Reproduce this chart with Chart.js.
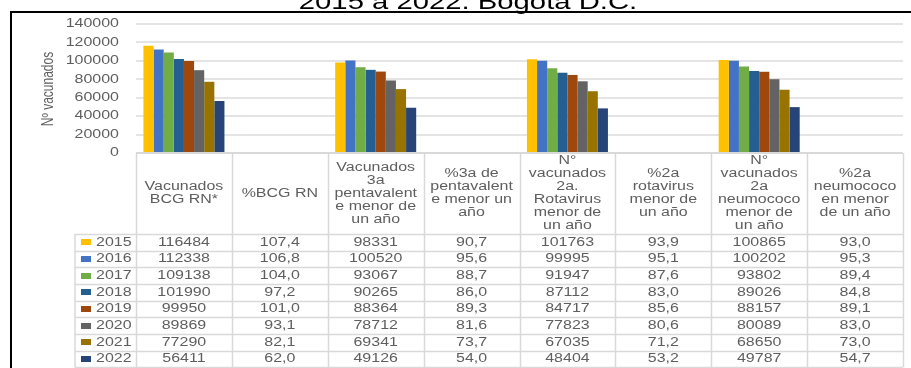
<!DOCTYPE html>
<html>
<head>
<meta charset="utf-8">
<script src="https://cdn.jsdelivr.net/npm/chart.js@4.4.1/dist/chart.umd.min.js"></script>
<style>
    body { margin: 0; background: #ffffff; }
    #wrap { width: 911px; height: 368px; }
</style>
</head>
<body>
<div id="wrap"><canvas id="coverageChart"></canvas></div>
<script>
// Years (one dataset per year) and table columns (x categories)
const years = ['2015', '2016', '2017', '2018', '2019', '2020', '2021', '2022'];
const categories = [
    ['Vacunados', 'BCG RN*'],
    ['%BCG RN'],
    ['Vacunados', '3a', 'pentavalent', 'e menor de', 'un año'],
    ['%3a de', 'pentavalent', 'e menor un', 'año'],
    ['N°', 'vacunados', '2a.', 'Rotavirus', 'menor de', 'un año'],
    ['%2a', 'rotavirus', 'menor de', 'un año'],
    ['N°', 'vacunados', '2a', 'neumococo', 'menor de', 'un año'],
    ['%2a', 'neumococo', 'en menor', 'de un año']
];

const bcgCount   = [116484, 112338, 109138, 101990, 99950, 89869, 77290, 56411];
const bcgPct     = [107.4, 106.8, 104.0, 97.2, 101.0, 93.1, 82.1, 62.0];
const pentaCount = [98331, 100520, 93067, 90265, 88364, 78712, 69341, 49126];
const pentaPct   = [90.7, 95.6, 88.7, 86.0, 89.3, 81.6, 73.7, 54.0];
const rotaCount  = [101763, 99995, 91947, 87112, 84717, 77823, 67035, 48404];
const rotaPct    = [93.9, 95.1, 87.6, 83.0, 85.6, 80.6, 71.2, 53.2];
const neumoCount = [100865, 100202, 93802, 89026, 88157, 80089, 68650, 49787];
const neumoPct   = [93.0, 95.3, 89.4, 84.8, 89.1, 83.0, 73.0, 54.7];

const columns = [bcgCount, bcgPct, pentaCount, pentaPct, rotaCount, rotaPct, neumoCount, neumoPct];
const percentColumn = [false, true, false, true, false, true, false, true];

const yTickValues = [0, 20000, 40000, 60000, 80000, 100000, 120000, 140000];
const yearColors = ['#FFC000', '#4472C4', '#70AD47', '#255E91', '#9E480E', '#636363', '#997300', '#264478'];

const TEXT_GRAY = '#5E5E5E';
const LINE_GRAY = '#D9D9D9';
const SX = 1.33;   // horizontal stretch of every label
const FONT = "12px 'Liberation Sans', Arial, sans-serif";

function formatValue(v, pct) {
    return pct ? v.toFixed(1).replace('.', ',') : String(v);
}

function stretchText(ctx, txt, x, y, align) {
    ctx.save();
    ctx.translate(x, y);
    ctx.scale(SX, 1);
    ctx.textAlign = align;
    ctx.fillText(txt, 0, 0);
    ctx.restore();
}

const datasets = years.map(function(year, i) {
    return {
        label: year,
        data: columns.map(function(col) { return col[i]; }),
        backgroundColor: yearColors[i],
        barPercentage: 1,
        categoryPercentage: 0.845
    };
});

// Title, frame, y labels and the data table below the plot
const tablePlugin = {
    id: 'dataTable',
    afterDraw: function(chart) {
        const ctx = chart.ctx;
        const area = chart.chartArea;
        const xs = chart.scales.x;
        const ys = chart.scales.y;
        const colW = (area.right - area.left) / categories.length;
        const headTop = area.bottom;
        const headBottom = 234;
        const rowH = 16.67;
        const legendLeft = 75;
        const tableBottom = headBottom + rowH * years.length;

        ctx.save();

        // outer frame
        ctx.strokeStyle = '#000000';
        ctx.lineWidth = 2;
        ctx.strokeRect(11, 12, 1200, 1200);

        // title (last line)
        ctx.fillStyle = '#000000';
        ctx.font = "22px 'Liberation Sans', Arial, sans-serif";
        ctx.textBaseline = 'alphabetic';
        stretchText(ctx, '2015 a 2022. Bogotá D.C.', 468, 9, 'center');

        // y tick labels
        ctx.fillStyle = TEXT_GRAY;
        ctx.font = FONT;
        ctx.textBaseline = 'middle';
        ys.ticks.forEach(function(t) {
            stretchText(ctx, String(t.value), 119, ys.getPixelForValue(t.value), 'right');
        });

        // y axis title
        ctx.save();
        ctx.translate(49, 89);
        ctx.scale(SX, 1);
        ctx.rotate(-Math.PI / 2);
        ctx.font = "12px 'Liberation Sans Narrow', 'Liberation Sans', Arial, sans-serif";
        ctx.textAlign = 'center';
        ctx.textBaseline = 'middle';
        ctx.fillText('Nº vacunados', 0, 0);
        ctx.restore();

        // table grid (top edge doubles as the zero line)
        ctx.strokeStyle = LINE_GRAY;
        ctx.lineWidth = 2;
        ctx.beginPath();
        ctx.moveTo(area.left, headTop);
        ctx.lineTo(area.right, headTop);
        ctx.stroke();

        ctx.lineWidth = 1.5;
        ctx.beginPath();
        for (let i = 0; i <= categories.length; i++) {
            const lx = Math.round(xs.getPixelForValue(i) - colW / 2) + 0.5;
            ctx.moveTo(lx, headTop);
            ctx.lineTo(lx, tableBottom);
        }
        ctx.moveTo(legendLeft, headBottom);
        ctx.lineTo(legendLeft, tableBottom);
        for (let r = 0; r <= years.length; r++) {
            const ly = Math.round(headBottom + r * rowH) + 0.5;
            ctx.moveTo(legendLeft, ly);
            ctx.lineTo(area.right, ly);
        }
        ctx.stroke();

        // header labels
        ctx.fillStyle = TEXT_GRAY;
        ctx.font = FONT;
        ctx.textBaseline = 'middle';
        const lineH = 13;
        const headMid = (headTop + headBottom) / 2;
        categories.forEach(function(lines, c) {
            const cx = xs.getPixelForValue(c);
            const start = headMid - (lines.length - 1) * lineH / 2;
            lines.forEach(function(line, k) {
                stretchText(ctx, line, cx, start + k * lineH, 'center');
            });
        });

        // rows: legend key, year and values
        years.forEach(function(year, r) {
            const cy = headBottom + r * rowH + rowH / 2;
            ctx.fillStyle = yearColors[r];
            ctx.fillRect(81, Math.round(cy - 3), 10, 6);
            ctx.fillStyle = TEXT_GRAY;
            stretchText(ctx, year, 96, cy, 'left');
            columns.forEach(function(col, c) {
                stretchText(ctx, formatValue(col[r], percentColumn[c]), xs.getPixelForValue(c), cy, 'center');
            });
        });

        ctx.restore();
    }
};

const ctx = document.getElementById('coverageChart').getContext('2d');
new Chart(ctx, {
    type: 'bar',
    data: {
        labels: categories,
        datasets: datasets
    },
    options: {
        responsive: true,
        maintainAspectRatio: false,
        animation: false,
        layout: {
            padding: { top: 24, right: 8, bottom: 215, left: 0 }
        },
        scales: {
            x: {
                display: false
            },
            y: {
                min: 0,
                max: 140000,
                afterFit: function(scale) { scale.width = 136; },
                afterBuildTicks: function(scale) {
                    scale.ticks = yTickValues.map(function(v) { return { value: v }; });
                },
                ticks: { display: false },
                grid: {
                    color: '#E4E4E4',
                    lineWidth: 2,
                    drawTicks: false
                },
                border: { display: false }
            }
        },
        plugins: {
            legend: { display: false },
            tooltip: { enabled: false }
        }
    },
    plugins: [tablePlugin]
});
</script>
</body>
</html>
